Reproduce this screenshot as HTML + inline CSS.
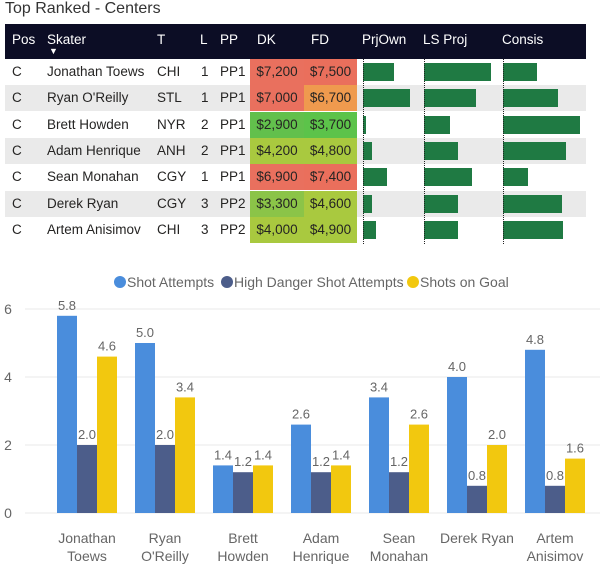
<!DOCTYPE html>
<html><head><meta charset="utf-8"><style>
body{margin:0;width:600px;height:570px;background:#fff;font-family:"Liberation Sans",sans-serif;position:relative;overflow:hidden;color:#252423}
.abs{position:absolute}
#title{left:5px;top:0px;font-size:16px;color:#333}
#hdr{left:5px;top:24px;width:581px;height:35px;background:#0c0d25}
.h{position:absolute;top:8px;color:#fff;font-size:13.5px}
.row{position:absolute;left:5px;width:581px;height:26px}
.c{position:absolute;top:5px;font-size:13.5px;white-space:nowrap}
.cell{position:absolute;top:0;height:26px;font-size:13.5px;line-height:26px;text-align:center}
.bar{position:absolute;top:4px;height:18px;background:#1f7a43}
.axisl{position:absolute;width:0;border-left:1.5px dotted #222;top:59px;height:185px}
</style></head><body>
<div id="title" class="abs">Top Ranked - Centers</div>
<div id="hdr" class="abs">
<div class="h" style="left:7px">Pos</div>
<div class="h" style="left:42px">Skater</div>
<div class="h" style="left:44px;top:22px;font-size:9px">▼</div>
<div class="h" style="left:152px">T</div>
<div class="h" style="left:195px">L</div>
<div class="h" style="left:215px">PP</div>
<div class="h" style="left:252px">DK</div>
<div class="h" style="left:306px">FD</div>
<div class="h" style="left:357px">PrjOwn</div>
<div class="h" style="left:418px">LS Proj</div>
<div class="h" style="left:497px">Consis</div>
</div>
<div id="rows"></div>
<svg id="chart" class="abs" style="left:0;top:265px" width="600" height="305"></svg>
<script>
const names=["Jonathan Toews","Ryan O'Reilly","Brett Howden","Adam Henrique","Sean Monahan","Derek Ryan","Artem Anisimov"];
const teams=["CHI","STL","NYR","ANH","CGY","CGY","CHI"];
const lines=["1","1","2","2","1","3","3"];
const pps=["PP1","PP1","PP1","PP1","PP1","PP2","PP2"];
const dk=["$7,200","$7,000","$2,900","$4,200","$6,900","$3,300","$4,000"];
const fd=["$7,500","$6,700","$3,700","$4,800","$7,400","$4,600","$4,900"];
const dkColor=["#e9705e","#e9705e","#62c04c","#a9c93f","#e9705e","#8bc448","#a9c93f"];
const fdColor=["#ea6f5c","#ef9a4e","#5cc34a","#a9c93f","#ea6f5c","#a9c93f","#a9c93f"];
const prjOwn=[31,47,3,9,24,9,13];
const lsProj=[67,52,26,34,48,34,34];
const consis=[34,55,77,63,25,59,60];
const rowsEl=document.getElementById('rows');
let html='';
for(let i=0;i<names.length;i++){
 const top=59+i*26.3;
 html+=`<div class="row" style="top:${top}px;background:${i%2?'#eaeaea':'#fff'}">
 <div class="c" style="left:7px">C</div>
 <div class="c" style="left:42px">${names[i]}</div>
 <div class="c" style="left:152px">${teams[i]}</div>
 <div class="c" style="left:196px">${lines[i]}</div>
 <div class="c" style="left:215px">${pps[i]}</div>
 <div class="cell" style="left:245px;width:54px;background:${dkColor[i]}">${dk[i]}</div>
 <div class="cell" style="left:299px;width:53px;background:${fdColor[i]}">${fd[i]}</div>
 <div class="bar" style="left:358px;width:${prjOwn[i]}px"></div>
 <div class="bar" style="left:419px;width:${lsProj[i]}px"></div>
 <div class="bar" style="left:498px;width:${consis[i]}px"></div>
 </div>`;
}
html+='<div class="axisl" style="left:363px"></div><div class="axisl" style="left:424px"></div><div class="axisl" style="left:503px"></div>';
rowsEl.innerHTML=html;
rowsEl.querySelectorAll('.bar').forEach(b=>{});

const cats=[["Jonathan","Toews"],["Ryan","O'Reilly"],["Brett","Howden"],["Adam","Henrique"],["Sean","Monahan"],["Derek Ryan",""],["Artem","Anisimov"]];
const shotAttempts=[5.8,5.0,1.4,2.6,3.4,4.0,4.8];
const highDanger=[2.0,2.0,1.2,1.2,1.2,0.8,0.8];
const shotsOnGoal=[4.6,3.4,1.4,1.4,2.6,2.0,1.6];
const yTicks=[0,2,4,6];
const seriesNames=["Shot Attempts","High Danger Shot Attempts","Shots on Goal"];
const colors=["#4a8ddc","#4c5d8a","#f2c80f"];
const svg=document.getElementById('chart');
const NS='http://www.w3.org/2000/svg';
const y=v=>248-v*34;
const gx=i=>87+i*78;
function mk(t,a,txt){const e=document.createElementNS(NS,t);for(const k in a)e.setAttribute(k,a[k]);if(txt!==undefined)e.textContent=txt;svg.appendChild(e);return e;}
yTicks.forEach(t=>{
 const g=mk('line',{x1:25,x2:600,y1:y(t),y2:y(t),stroke:'#e8e8e8','stroke-width':1});
 
 
 const l=mk('text',{x:8,y:y(t)+5,'font-size':14,fill:'#666','text-anchor':'middle'},t);
 
 
});
const series=[shotAttempts,highDanger,shotsOnGoal];
series.forEach((s,si)=>{
 s.forEach((v,i)=>{
  const x=gx(i)-30+si*20;
  const r=mk('rect',{x:x,y:y(v),width:20,height:v*34,fill:colors[si]});
  
  
  const t=mk('text',{x:x+10,y:y(v)-6,'font-size':13,fill:'#666','text-anchor':'middle'},v.toFixed(1));
  
  
 });
});
cats.forEach((c,i)=>{
 c.forEach((ln,k)=>{ if(!ln)return;
  const t=mk('text',{x:gx(i),y:278+k*18,'font-size':14,fill:'#666','text-anchor':'middle'},ln);
  
  
 });
});
const lx=[120,227,413];
seriesNames.forEach((n,i)=>{
 const c=mk('circle',{cx:lx[i],cy:17,r:6,fill:colors[i]});
 
 
 const t=mk('text',{x:lx[i]+7,y:22,'font-size':14,fill:'#666'},n);
 
 
});
</script>
</body></html>
